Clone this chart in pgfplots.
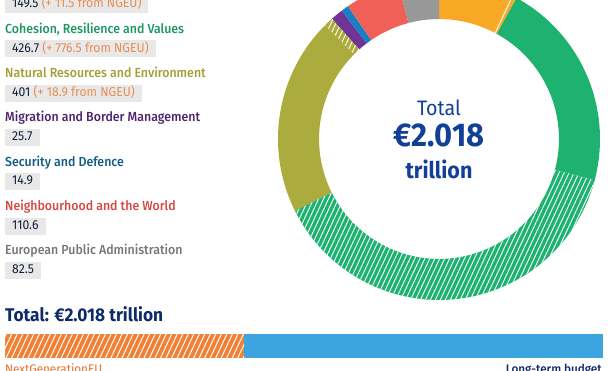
\documentclass[border=0pt]{standalone}
\usepackage{pgfplots}
\pgfplotsset{compat=1.18}
\usepackage{pgfplotstable}
\usetikzlibrary{patterns.meta}
\usepackage{fontspec}
\setmainfont{Fira Sans}[FakeStretch=0.94]
\newfontfamily\medium{Fira Sans Medium}[FakeStretch=0.94]

\definecolor{seg0}{RGB}{249,168,38}
\definecolor{seg1}{RGB}{30,178,112}
\definecolor{seg2}{RGB}{172,172,62}
\definecolor{seg3}{RGB}{112,52,150}
\definecolor{seg4}{RGB}{22,128,198}
\definecolor{seg5}{RGB}{240,96,86}
\definecolor{seg6}{RGB}{152,152,152}
\definecolor{hd1}{RGB}{28,150,100}
\definecolor{hd2}{RGB}{160,160,52}
\definecolor{hd3}{RGB}{78,36,108}
\definecolor{hd4}{RGB}{18,92,132}
\definecolor{hd5}{RGB}{214,72,66}
\definecolor{hd6}{RGB}{118,118,118}
\definecolor{boxgray}{RGB}{232,232,232}
\definecolor{valtxt}{RGB}{20,30,60}
\definecolor{ngeutxt}{RGB}{232,142,82}
\definecolor{navyT}{RGB}{16,42,105}
\definecolor{ctrblue}{RGB}{18,64,150}
\definecolor{barorange}{RGB}{240,128,52}
\definecolor{barblue}{RGB}{60,164,222}
\definecolor{ngeulab}{RGB}{236,110,40}

% MFF 2021-2027 (EUR billion, current prices): long-term budget and NextGenerationEU top-up
\pgfplotstableread{
val ngeu
149.5 11.5
426.7 776.5
401 18.9
25.7 0
14.9 0
110.6 0
82.5 0
}\mff

\newcommand\rin{0.745}

\begin{document}
\begin{tikzpicture}

% cumulative angles from the data
\pgfmathsetmacro\mytot{0}
\pgfplotsforeachungrouped \k in {0,...,6}{%
  \pgfplotstablegetelem{\k}{val}\of\mff \let\myv\pgfplotsretval
  \pgfplotstablegetelem{\k}{ngeu}\of\mff \let\myn\pgfplotsretval
  \pgfmathsetmacro\mytot{\mytot+\myv+\myn}%
}
\pgfmathsetmacro\mycum{0}
\pgfplotsforeachungrouped \k in {0,...,6}{%
  \pgfplotstablegetelem{\k}{val}\of\mff \let\myv\pgfplotsretval
  \pgfplotstablegetelem{\k}{ngeu}\of\mff \let\myn\pgfplotsretval
  \pgfmathsetmacro\myA{90-\mycum/\mytot*360}%
  \pgfmathsetmacro\mycum{\mycum+\myv}%
  \pgfmathsetmacro\myB{90-\mycum/\mytot*360}%
  \pgfmathsetmacro\mycum{\mycum+\myn}%
  \pgfmathsetmacro\myC{90-\mycum/\mytot*360}%
  \expandafter\xdef\csname sA\k\endcsname{\myA}%
  \expandafter\xdef\csname sB\k\endcsname{\myB}%
  \expandafter\xdef\csname sC\k\endcsname{\myC}%
}

\begin{axis}[at={(439bp,232bp)}, anchor=center, scale only axis,
  width=322bp, height=322bp, xmin=-1, xmax=1, ymin=-1, ymax=1,
  hide axis, clip=false]
\pgfplotsinvokeforeach{0,...,6}{
  \fill[seg#1] plot[domain=\csname sA#1\endcsname:\csname sB#1\endcsname, samples=60, variable=\t] (axis cs:{cos(\t)},{sin(\t)})
    -- plot[domain=\csname sB#1\endcsname:\csname sA#1\endcsname, samples=60, variable=\t] (axis cs:{\rin*cos(\t)},{\rin*sin(\t)}) -- cycle;
}
\pgfplotsinvokeforeach{0,1,2}{
  \path[fill=seg#1, postaction={pattern={Lines[angle=65,distance=4.5bp,line width=0.9bp]}, pattern color=white}]
    plot[domain=\csname sB#1\endcsname:\csname sC#1\endcsname, samples=60, variable=\t] (axis cs:{cos(\t)},{sin(\t)})
    -- plot[domain=\csname sC#1\endcsname:\csname sB#1\endcsname, samples=60, variable=\t] (axis cs:{\rin*cos(\t)},{\rin*sin(\t)}) -- cycle;
}
\end{axis}

% bottom bar: NextGenerationEU vs long-term budget
\begin{axis}[at={(5bp,13bp)}, anchor=south west, scale only axis,
  width=598bp, height=24bp, xbar stacked, bar width=24bp,
  xmin=0, xmax=2017.8, ymin=0.5, ymax=1.5, hide axis, enlargelimits=false]
\addplot[fill=barorange, draw=none, postaction={pattern={Lines[angle=65,distance=5bp,line width=1bp]}, pattern color=white}] coordinates {(806.9,1)};
\addplot[fill=barblue, draw=none] coordinates {(1210.9,1)};
\end{axis}

\begin{scope}[x=1bp,y=1bp]
% centre text
\node[anchor=base, inner sep=0, text=ctrblue, font=\fontsize{21}{24}\selectfont] at (439,256) {Total};
\node[anchor=base, inner sep=0, text=ctrblue, font=\bfseries\fontsize{33}{36}\selectfont] at (439,224.5) {€2.018};
\node[anchor=base, inner sep=0, text=ctrblue, font=\bfseries\fontsize{23}{26}\selectfont] at (439,193) {trillion};

% left column
\tikzset{hd/.style={anchor=base west, inner sep=0, font=\medium\fontsize{13.2}{15}\selectfont},
  vb/.style={anchor=west, fill=boxgray, inner xsep=7bp, inner ysep=2.5bp, text height=9bp, text depth=3bp, text=valtxt, font=\fontsize{13}{15}\selectfont}}
\node[vb] at (5,366.3) {149.5 \textcolor{ngeutxt}{(+ 11.5 from NGEU)}};
\node[hd, text=hd1] at (5,337.7) {Cohesion, Resilience and Values};
\node[vb] at (5,322) {426.7 \textcolor{ngeutxt}{(+ 776.5 from NGEU)}};
\node[hd, text=hd2] at (5,293.4) {Natural Resources and Environment};
\node[vb] at (5,277.7) {401 \textcolor{ngeutxt}{(+ 18.9 from NGEU)}};
\node[hd, text=hd3] at (5,249.1) {Migration and Border Management};
\node[vb] at (5,233.4) {25.7};
\node[hd, text=hd4] at (5,204.8) {Security and Defence};
\node[vb] at (5,189.1) {14.9};
\node[hd, text=hd5] at (5,160.5) {Neighbourhood and the World};
\node[vb] at (5,144.8) {110.6};
\node[hd, text=hd6] at (5,116.2) {European Public Administration};
\node[vb] at (5,100.5) {82.5};

\node[anchor=base west, inner sep=0, text=navyT, font=\bfseries\fontsize{18.5}{21}\selectfont] at (5,49.5) {Total: €2.018 trillion};
\node[anchor=base west, inner sep=0, text=ngeulab, font=\fontsize{12.5}{14}\selectfont] at (5,-2) {NextGenerationEU};
\node[anchor=base east, inner sep=0, text=navyT, font=\medium\fontsize{12.5}{14}\selectfont] at (602,-2) {Long-term budget};
\end{scope}

\pgfresetboundingbox
\useasboundingbox (0,0) rectangle (609bp,371bp);
\end{tikzpicture}
\end{document}
